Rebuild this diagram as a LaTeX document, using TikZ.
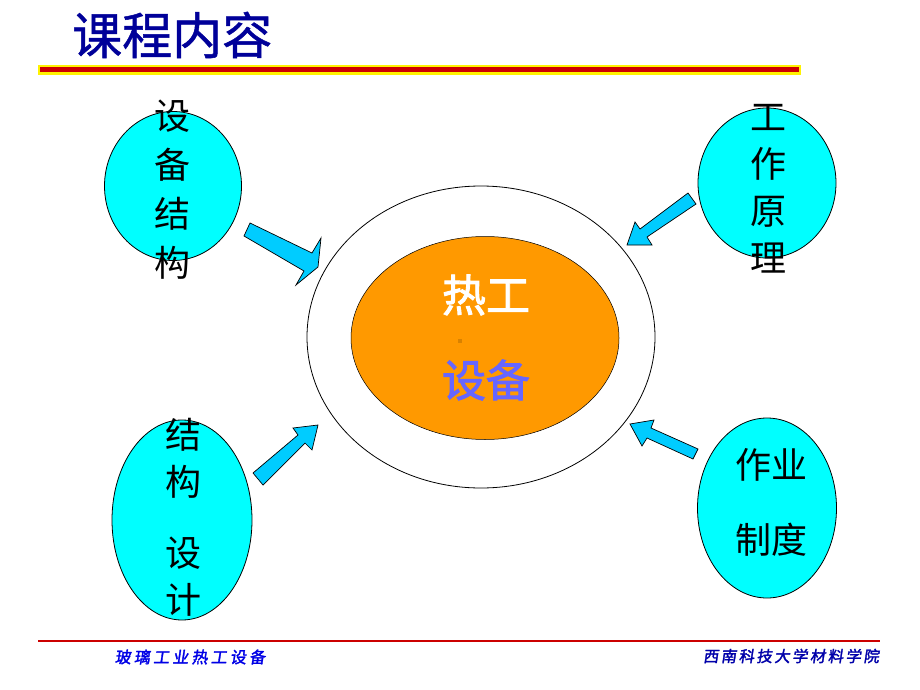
\documentclass[tikz,border=0pt]{standalone}
\usepackage{fontspec}
\newfontfamily\cjk{Noto Sans CJK SC}
\newfontfamily\cjkmid[FakeBold=1]{Noto Sans CJK SC}
\newfontfamily\cjkbold[FakeBold=2]{Noto Sans CJK SC}
\newfontfamily\cjkfootl[LetterSpace=20,FakeBold=2,FakeSlant=0.15]{Noto Sans CJK SC}
\newfontfamily\cjkfootr[LetterSpace=15,FakeBold=2,FakeSlant=0.15]{Noto Sans CJK SC}
\usetikzlibrary{shapes.geometric}
\definecolor{titleblue}{RGB}{0,0,153}
\definecolor{bubble}{RGB}{0,255,255}
\definecolor{arrowfill}{RGB}{0,204,255}
\definecolor{coreorange}{RGB}{255,153,0}
\definecolor{setblue}{RGB}{102,102,255}
\definecolor{dotc}{RGB}{217,130,0}
\definecolor{footred}{RGB}{204,0,0}
\definecolor{footblueL}{RGB}{0,0,230}
\definecolor{footblueR}{RGB}{0,0,170}
\tikzset{
  bubblenode/.style={draw=black, line width=0.8pt, fill=bubble, ellipse, inner sep=0pt},
  blockarrow/.style={draw=black, line width=0.7pt, fill=arrowfill, line join=miter},
  vtext/.style={font=\cjk\fontsize{36}{48}\selectfont, align=center, text=black, inner sep=0pt},
  coretext/.style={font=\cjkbold\fontsize{44}{44}\selectfont, inner sep=0pt}
}
\begin{document}
\begin{tikzpicture}[x=1pt,y=-1pt]
\useasboundingbox (0,0) rectangle (920,690);
\fill[white] (0,0) rectangle (920,690);

% title
\node[font=\cjkmid\fontsize{50}{50}\selectfont, text=titleblue, anchor=west, inner sep=0pt] (title) at (72,35) {课程内容};
\fill[yellow] (38,65) rectangle (801,75);
\fill[footred] (40,67.5) rectangle (799,72.5);

% central ellipses
\node[draw=black, line width=0.8pt, fill=white, ellipse, inner sep=0pt, minimum width=348pt, minimum height=302pt] (outer) at (481,337) {};
\node[fill=coreorange, draw=black, line width=0.5pt, ellipse, inner sep=0pt, minimum width=268pt, minimum height=203pt] (core) at (485,338) {};
\node[coretext, text=white] (re) at (486,295) {热工};
\node[coretext, text=setblue] (sb) at (486,380) {设备};
\fill[dotc] (458,339) rectangle (462,343);

% bubbles
\node[bubblenode, minimum width=137pt, minimum height=149pt] (tl) at (173,186) {};
\node[bubblenode, minimum width=138pt, minimum height=150pt] (tr) at (767,183) {};
\node[bubblenode, minimum width=140pt, minimum height=200pt] (bl) at (182,520) {};
\node[bubblenode, minimum width=139pt, minimum height=180pt] (br) at (767,508) {};

% bubble texts
\node[vtext, font=\cjk\fontsize{36}{49}\selectfont] (tlt) at (172,190) {设\\备\\结\\构};
\node[vtext, font=\cjk\fontsize{36}{47}\selectfont] (trt) at (768,189) {工\\作\\原\\理};
\node[vtext, font=\cjk\fontsize{36}{47}\selectfont] (blt1) at (183,458) {结\\构};
\node[vtext, font=\cjk\fontsize{36}{47}\selectfont] (blt2) at (183,577) {设\\计};
\node[vtext] (brt1) at (771,465) {作业};
\node[vtext] (brt2) at (771,540) {制度};

% block arrows
\filldraw[blockarrow] (250,223) -- (312,253) -- (321,238) -- (318,267) -- (296,285) -- (304,271) -- (244,236) -- cycle;
\filldraw[blockarrow] (688,193) -- (696,204) -- (647,237) -- (652,245) -- (627,245) -- (635,222) -- (640,229) -- cycle;
\filldraw[blockarrow] (253,473) -- (298,435) -- (293,428) -- (318,425) -- (312,450) -- (305,443) -- (263,485) -- cycle;
\filldraw[blockarrow] (698,449) -- (651,428) -- (654,420) -- (630,424) -- (642,446) -- (647,438) -- (693,459) -- cycle;

% footer
\draw[footred, line width=2pt] (38,641) -- (880,641);
\node[font=\cjkfootl\fontsize{16}{16}\selectfont, text=footblueL, inner sep=0pt] (footl) at (190,657) {玻璃工业热工设备};
\node[font=\cjkfootr\fontsize{15.5}{16}\selectfont, text=footblueR, inner sep=0pt] (footr) at (791,656) {西南科技大学材料学院};
\end{tikzpicture}
\end{document}
